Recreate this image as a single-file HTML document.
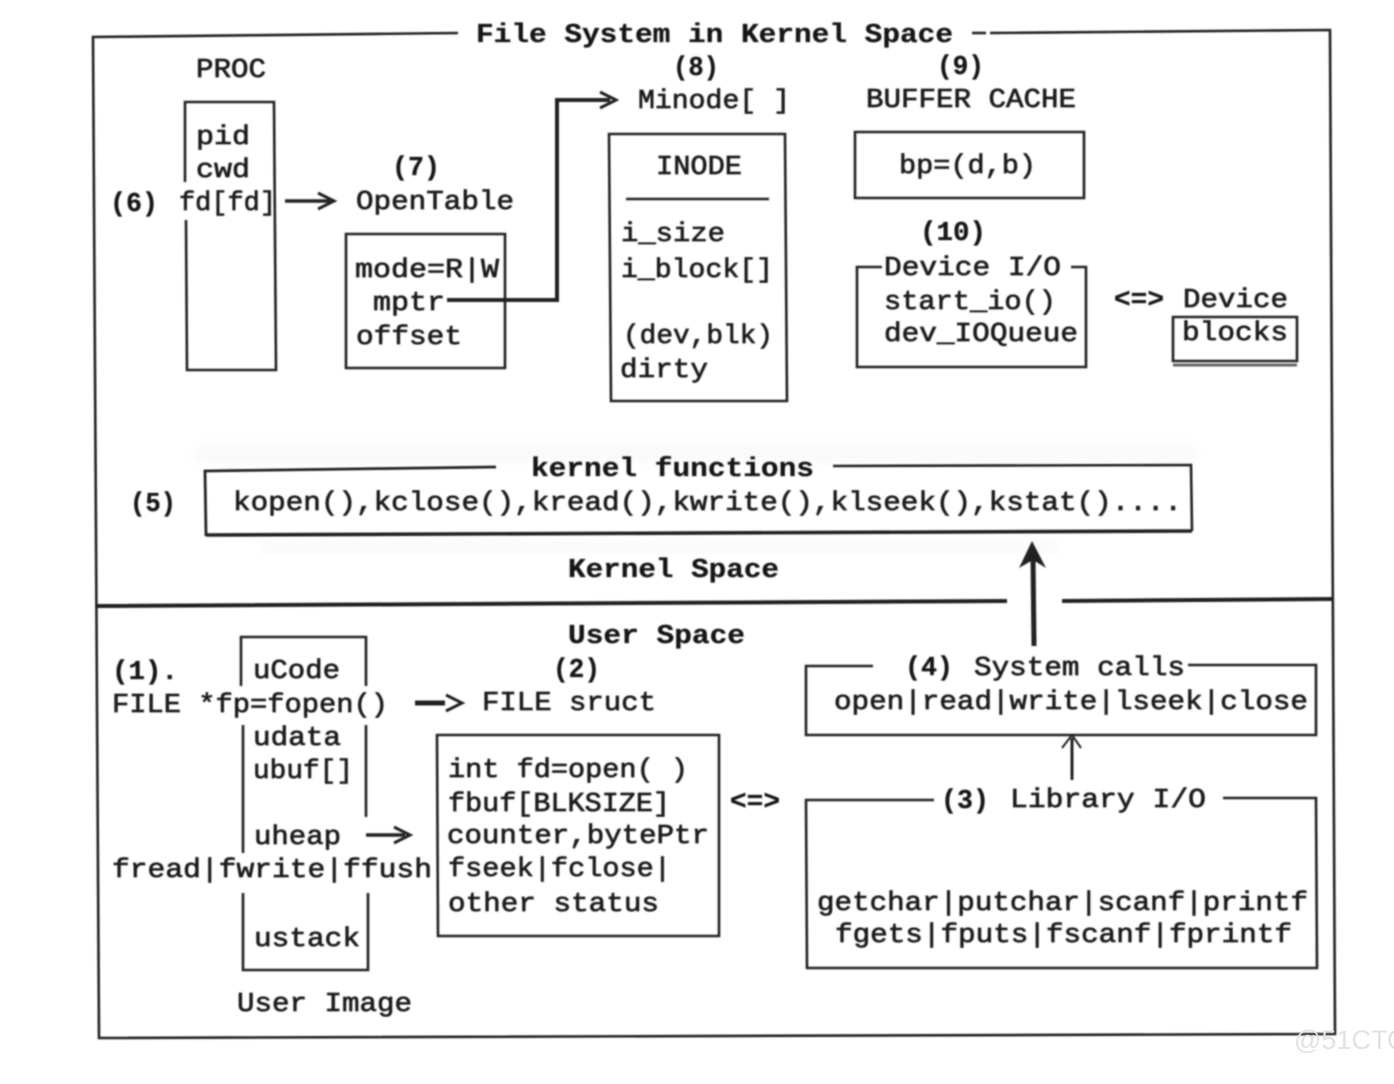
<!DOCTYPE html>
<html><head><meta charset="utf-8"><style>
html,body{margin:0;padding:0;background:#fff;width:1394px;height:1084px;overflow:hidden}
svg{display:block}
text{font-family:"Liberation Mono",monospace;font-size:27px;fill:#1e1e1e;stroke:#1e1e1e;stroke-width:.7}
.b{font-weight:bold;fill:#141414;stroke:#141414;stroke-width:.3}
.l{stroke:#222;stroke-width:2.6;fill:none}
.h{stroke:#222;stroke-width:4.5;fill:none}
</style></head><body>
<svg width="1394" height="1084" viewBox="0 0 1394 1084" xmlns="http://www.w3.org/2000/svg">
<defs>
<filter id="f" x="-2%" y="-2%" width="104%" height="104%"><feGaussianBlur stdDeviation="0.7"/></filter>
<filter id="g" x="-5%" y="-50%" width="110%" height="200%"><feGaussianBlur stdDeviation="6"/></filter>
</defs>
<rect width="1394" height="1084" fill="#fff"/>
<!-- faint scan ghosting -->
<g filter="url(#g)" fill="#f8f8f8">
<rect x="195" y="445" width="1000" height="16"/>
<rect x="260" y="542" width="800" height="10"/>
</g>
<g filter="url(#f)">
<!-- outer frame -->
<path class="l" d="M458 33 L93 37 L99 1038 L1335 1034 L1330 30 L990 33"/>
<path class="h" d="M97 606 L1007 601 M1062 601 L1333 599" style="stroke-width:4"/>
<text class="b" x="476" y="42" textLength="477" lengthAdjust="spacingAndGlyphs">File System in Kernel Space</text>
<path class="l" d="M972 33 H986"/>

<!-- PROC -->
<text x="196" y="77" textLength="70" lengthAdjust="spacingAndGlyphs">PROC</text>
<path class="l" d="M185 182 V102 H274 L276 370 H187 L186 220"/>
<text x="196" y="144" textLength="54" lengthAdjust="spacingAndGlyphs">pid</text>
<text x="196" y="177" textLength="54" lengthAdjust="spacingAndGlyphs">cwd</text>
<text class="b" x="110" y="211" textLength="48" lengthAdjust="spacingAndGlyphs">(6)</text>
<text x="179" y="210" textLength="97" lengthAdjust="spacingAndGlyphs">fd[fd]</text>
<path class="h" d="M285 201 H330" style="stroke-width:3.5"/>
<path class="l" d="M318 193 L334 201 L318 209" style="stroke-width:3"/>

<!-- OpenTable -->
<text class="b" x="392" y="175" textLength="48" lengthAdjust="spacingAndGlyphs">(7)</text>
<text x="356" y="209" textLength="158" lengthAdjust="spacingAndGlyphs">OpenTable</text>
<path class="l" d="M346 234 H505 V368 H346 Z"/>
<text x="355" y="277" textLength="144" lengthAdjust="spacingAndGlyphs">mode=R|W</text>
<text x="373" y="310" textLength="72" lengthAdjust="spacingAndGlyphs">mptr</text>
<text x="356" y="344" textLength="106" lengthAdjust="spacingAndGlyphs">offset</text>
<path class="h" d="M447 300 H557 V100 H610" style="stroke-width:4"/>
<path class="l" d="M600 92 L616 100 L600 108" style="stroke-width:3"/>

<!-- INODE -->
<text class="b" x="673" y="75" textLength="46" lengthAdjust="spacingAndGlyphs">(8)</text>
<text x="638" y="108" textLength="152" lengthAdjust="spacingAndGlyphs">Minode[ ]</text>
<path class="l" d="M609 134 H785 L787 401 H611 Z"/>
<text x="656" y="174" textLength="86" lengthAdjust="spacingAndGlyphs">INODE</text>
<path class="l" d="M626 199 H769"/>
<text x="621" y="241" textLength="104" lengthAdjust="spacingAndGlyphs">i_size</text>
<text x="621" y="277" textLength="152" lengthAdjust="spacingAndGlyphs">i_block[]</text>
<text x="623" y="343" textLength="150" lengthAdjust="spacingAndGlyphs">(dev,blk)</text>
<text x="620" y="377" textLength="88" lengthAdjust="spacingAndGlyphs">dirty</text>

<!-- Buffer cache -->
<text class="b" x="937" y="74" textLength="47" lengthAdjust="spacingAndGlyphs">(9)</text>
<text x="866" y="107" textLength="210" lengthAdjust="spacingAndGlyphs">BUFFER CACHE</text>
<path class="l" d="M855 132 H1084 V198 H855 Z"/>
<text x="899" y="173" textLength="137" lengthAdjust="spacingAndGlyphs">bp=(d,b)</text>

<!-- Device I/O -->
<text class="b" x="920" y="240" textLength="66" lengthAdjust="spacingAndGlyphs">(10)</text>
<path class="l" d="M882 267 H857 V367 H1086 V267 H1071"/>
<text x="884" y="275" textLength="177" lengthAdjust="spacingAndGlyphs">Device I/O</text>
<text x="884" y="309" textLength="172" lengthAdjust="spacingAndGlyphs">start_io()</text>
<text x="884" y="341" textLength="194" lengthAdjust="spacingAndGlyphs">dev_IOQueue</text>
<text class="b" x="1114" y="307" textLength="50" lengthAdjust="spacingAndGlyphs">&lt;=&gt;</text>
<text x="1183" y="307" textLength="105" lengthAdjust="spacingAndGlyphs">Device</text>
<text x="1182" y="340" textLength="106" lengthAdjust="spacingAndGlyphs">blocks</text>
<path class="l" d="M1173 317 H1297 V361 H1173 Z"/>
<path class="l" d="M1173 365 H1297" style="stroke-width:3;stroke:#666"/>

<!-- kernel functions -->
<path class="l" d="M496 467 L205 471 L206 536" style="stroke-width:2.8"/>
<path class="l" d="M206 535 L1192 531" style="stroke-width:3.6"/>
<path class="l" d="M1192 531 L1191 465 L833 466"/>
<text class="b" x="531" y="476" textLength="283" lengthAdjust="spacingAndGlyphs">kernel functions</text>
<text class="b" x="130" y="511" textLength="46" lengthAdjust="spacingAndGlyphs">(5)</text>
<text x="233" y="510" textLength="949" lengthAdjust="spacingAndGlyphs">kopen(),kclose(),kread(),kwrite(),klseek(),kstat()....</text>
<text class="b" x="568" y="577" textLength="211" lengthAdjust="spacingAndGlyphs">Kernel Space</text>
<path class="h" d="M1034 646 L1033 556" style="stroke-width:5"/>
<path d="M1019 568 L1032 541 L1046 568 L1033 560 Z" fill="#222"/>

<!-- User space -->
<text class="b" x="568" y="643" textLength="177" lengthAdjust="spacingAndGlyphs">User Space</text>

<!-- User image -->
<path class="l" d="M241 686 V637 H366 V686"/>
<path class="l" d="M243 725 V853 M366 725 V817"/>
<path class="l" d="M243 893 V970 H368 V893"/>
<text x="253" y="678" textLength="87" lengthAdjust="spacingAndGlyphs">uCode</text>
<text class="b" x="112" y="679" textLength="66" lengthAdjust="spacingAndGlyphs">(1).</text>
<text x="112" y="712" textLength="276" lengthAdjust="spacingAndGlyphs">FILE *fp=fopen()</text>
<path class="h" d="M415 703 H445" style="stroke-width:5"/>
<path class="l" d="M446 695 L462 703 L446 711" style="stroke-width:3"/>
<text x="253" y="745" textLength="88" lengthAdjust="spacingAndGlyphs">udata</text>
<text x="253" y="778" textLength="100" lengthAdjust="spacingAndGlyphs">ubuf[]</text>
<text x="254" y="844" textLength="87" lengthAdjust="spacingAndGlyphs">uheap</text>
<path class="h" d="M366 835 H405" style="stroke-width:3.5"/>
<path class="l" d="M394 827 L410 835 L394 843" style="stroke-width:3"/>
<text x="112" y="877" textLength="320" lengthAdjust="spacingAndGlyphs">fread|fwrite|ffush</text>
<text x="254" y="946" textLength="106" lengthAdjust="spacingAndGlyphs">ustack</text>
<text x="237" y="1011" textLength="175" lengthAdjust="spacingAndGlyphs">User Image</text>

<!-- FILE struct -->
<text class="b" x="553" y="677" textLength="47" lengthAdjust="spacingAndGlyphs">(2)</text>
<text x="482" y="710" textLength="174" lengthAdjust="spacingAndGlyphs">FILE sruct</text>
<path class="l" d="M437 735 H719 V936 H438 Z"/>
<text x="448" y="777" textLength="240" lengthAdjust="spacingAndGlyphs">int fd=open( )</text>
<text x="448" y="811" textLength="222" lengthAdjust="spacingAndGlyphs">fbuf[BLKSIZE]</text>
<text x="447" y="843" textLength="262" lengthAdjust="spacingAndGlyphs">counter,bytePtr</text>
<text x="448" y="876" textLength="223" lengthAdjust="spacingAndGlyphs">fseek|fclose|</text>
<text x="448" y="911" textLength="211" lengthAdjust="spacingAndGlyphs">other status</text>
<text class="b" x="730" y="809" textLength="50" lengthAdjust="spacingAndGlyphs">&lt;=&gt;</text>

<!-- System calls -->
<path class="l" d="M873 666 H806 V735 H1316 V665 H1188"/>
<text class="b" x="905" y="675" textLength="48" lengthAdjust="spacingAndGlyphs">(4)</text>
<text x="974" y="675" textLength="211" lengthAdjust="spacingAndGlyphs">System calls</text>
<text x="834" y="709" textLength="474" lengthAdjust="spacingAndGlyphs">open|read|write|lseek|close</text>
<path class="l" d="M1072 780 V738" style="stroke-width:3"/>
<path class="l" d="M1062 748 L1072 735 L1081 748" style="stroke-width:2"/>

<!-- Library I/O -->
<path class="l" d="M934 800 H806 L807 968 H1317 L1316 798 H1223"/>
<text class="b" x="941" y="808" textLength="48" lengthAdjust="spacingAndGlyphs">(3)</text>
<text x="1010" y="807" textLength="196" lengthAdjust="spacingAndGlyphs">Library I/O</text>
<text x="817" y="910" textLength="491" lengthAdjust="spacingAndGlyphs">getchar|putchar|scanf|printf</text>
<text x="835" y="942" textLength="457" lengthAdjust="spacingAndGlyphs">fgets|fputs|fscanf|fprintf</text>
</g>
<text x="1294" y="1049" style="font-family:'Liberation Sans',sans-serif;font-size:27px;fill:#e2e2e2;stroke:none">@51CTO</text>
</svg>
</body></html>
